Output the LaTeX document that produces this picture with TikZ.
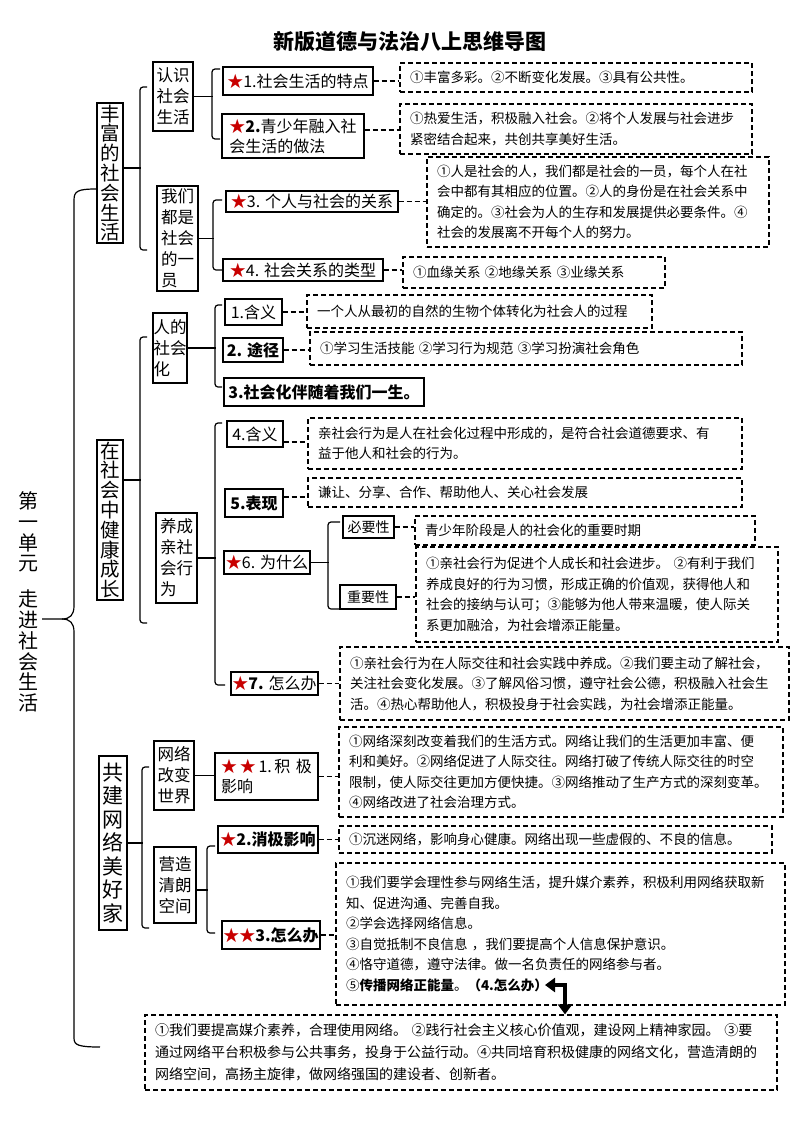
\documentclass[tikz,border=0pt]{standalone}
\usepackage{fontspec}
\setmainfont{Noto Sans CJK SC}
\usetikzlibrary{arrows.meta}
\definecolor{starred}{RGB}{200,0,0}
\newcommand{\rstar}{\textcolor{starred}{★}}

\tikzset{
  box/.style={draw, line width=1.4pt, inner sep=0pt, font=\fontsize{16}{20}\selectfont},
  bbox/.style={box, font=\bfseries\fontsize{16}{20}\selectfont},
  vbox/.style={box, text width=20pt, align=center, font=\fontsize{19.5}{19.8}\selectfont},
  kbox/.style={box, align=left, font=\fontsize{16.5}{21}\selectfont},
  dbox/.style={draw, line width=1.3pt, dash pattern=on 5pt off 3pt, inner xsep=10pt, inner ysep=0pt, align=left, font=\fontsize{13.5}{20.5}\selectfont},
  dline/.style={line width=1.3pt, dash pattern=on 5pt off 3pt},
  brk/.style={line width=1.2pt, rounded corners=3pt},
  fatarrow/.style={line width=4pt, arrows={Triangle[width=14pt,length=10pt]-Triangle[width=14pt,length=10pt]}}
}

\begin{document}
\begin{tikzpicture}[x=1pt,y=-1pt]
\fill[white] (0,0) rectangle (793,1122);
\useasboundingbox (0,0) rectangle (793,1122);

\draw(410,42) node[font=\bfseries\fontsize{21}{24}\selectfont] (title) {新版道德与法治八上思维导图};
\draw(28,602) node[align=center, font=\fontsize{20}{20.8}\selectfont] (chap) {第\\一\\单\\元\\[15pt]走\\进\\社\\会\\生\\活};

% three topics
\draw(110,173) node[vbox, minimum width=26pt, minimum height=140pt] (l1a) {丰\\富\\的\\社\\会\\生\\活};
\draw(110,520) node[vbox, minimum width=26pt, minimum height=160pt] (l1b) {在\\社\\会\\中\\健\\康\\成\\长};
\draw(113,843) node[vbox, text width=22pt, minimum width=28pt, minimum height=174pt, font=\fontsize{21}{23.5}\selectfont] (l1c) {共\\建\\网\\络\\美\\好\\家};

\coordinate (tip) at (42,619);
\draw[line width=1.2pt] ([yshift=-16pt]l1a.west) .. controls (78,189) and (74,191) .. (74,200) -- (74,606) .. controls (74,615) and (70,619) .. (62,619) -- (tip);
\draw[line width=1.2pt] (62,619) .. controls (70,619) and (74,623) .. (74,632) -- (74,1038) .. controls (74,1045) and (78,1047) .. (100,1047);

\draw[brk] ([yshift=5pt]l1a.east) -- ++(17,0);
\draw[brk] (147,87) -| (140,250) -- (147,250);
\draw[brk] ([yshift=40pt]l1b.east) -- ++(17,0);
\draw[brk] (147,337) -| (140,623) -- (147,623);
\draw[brk] (l1c.east) -- ++(15,0);
\draw[brk] (149,767) -| (142,928) -- (149,928);

% 丰富的社会生活
\draw(173,96.5) node[kbox, minimum width=40pt, minimum height=69pt] (s1) {认识\\社会\\生活};
\draw(177.5,238.5) node[kbox, minimum width=41pt, minimum height=105pt] (s2) {我们\\都是\\社会\\的一\\员};
\draw[brk] (s1.east) -- ++(19,0);
\draw[brk] (220,69) -| (212,139) -- (220,139);
\draw[brk] (s2.east) -- ++(15,0);
\draw[brk] (222,200) -| (213,270) -- (222,270);

\draw(298,81) node[box, minimum width=150pt, minimum height=28pt] (t1) {\rstar1.社会生活的特点};
\draw(293,136) node[box, minimum width=142pt, minimum height=44pt, align=left] (t2) {\rstar\textbf{2.}青少年融入社\\会生活的做法};
\draw(312,201.5) node[box, minimum width=172pt, minimum height=21pt] (t3) {\rstar3. 个人与社会的关系};
\draw(303,270) node[box, minimum width=160pt, minimum height=22pt] (t4) {\rstar4. 社会关系的类型};

\draw(576,77.5) node[dbox, text width=332pt, minimum height=29pt] (d1) {①丰富多彩。②不断变化发展。③具有公共性。};
\draw(576,129) node[dbox, text width=332pt, minimum height=50pt] (d2) {①热爱生活，积极融入社会。②将个人发展与社会进步\\紧密结合起来，共创共享美好生活。};
\draw(598,202) node[dbox, text width=322pt, minimum height=90pt] (d3) {①人是社会的人，我们都是社会的一员，每个人在社\\会中都有其相应的位置。②人的身份是在社会关系中\\确定的。③社会为人的生存和发展提供必要条件。④\\社会的发展离不开每个人的努力。};
\draw(534,272.5) node[dbox, text width=242pt, minimum height=31pt] (d4) {①血缘关系\ ②地缘关系\ ③业缘关系};

\draw[dline] (t1.east) -- (t1.east -| d1.west);
\draw[dline] ([yshift=6pt]t2.east) -- ([yshift=6pt]t2.east -| d2.west);
\draw[dline] (t3.east) -- (t3.east -| d3.west);
\draw[dline] (t4.east) -- (t4.east -| d4.west);

% 在社会中健康成长
\draw(170,348) node[kbox, minimum width=34pt, minimum height=70pt] (s3) {人的\\社会\\化};
\draw(176.5,558) node[kbox, minimum width=41pt, minimum height=90pt] (s4) {养成\\亲社\\会行\\为};
\draw[brk] (s3.east) -- ++(28,0);
\draw[brk] (222,305) -| (215,387) -- (222,387);
\draw[brk] (s4.east) -- ++(18.5,0);
\draw[brk] (222,423) -| (215,685) -- (225,685);

\draw(253.5,312) node[box, minimum width=57pt, minimum height=26pt] (t5) {1.含义};
\draw(253,350) node[bbox, minimum width=60pt, minimum height=24pt] (t6) {2. 途径};
\draw(324,392) node[bbox, minimum width=200pt, minimum height=28pt] (t7) {3.社会化伴随着我们一生。};
\draw(255,434) node[box, minimum width=56pt, minimum height=26pt] (t8) {4.含义};
\draw(254,503) node[bbox, minimum width=58pt, minimum height=28pt] (t9) {5.表现};
\draw(267,562.5) node[box, minimum width=86pt, minimum height=23pt] (t10) {\rstar6. 为什么};
\draw(274.5,683.5) node[box, minimum width=87pt, minimum height=23pt] (t11) {\rstar\textbf{7.} 怎么办};
\draw(368.5,527) node[box, minimum width=51pt, minimum height=22pt, font=\fontsize{14}{16}\selectfont] (t12) {必要性};
\draw(368,597) node[box, minimum width=56pt, minimum height=24pt, font=\fontsize{14}{16}\selectfont] (t13) {重要性};
\draw[brk] (t10.east) -- ++(18,0);
\draw[brk] (340,522) -| (328,609) -- (340,609);

\draw(479.5,311.5) node[dbox, text width=325pt, minimum height=33pt] (d5) {一个人从最初的自然的生物个体转化为社会人的过程};
\draw(526,348.5) node[dbox, text width=412pt, minimum height=33pt] (d6) {①学习生活技能\ ②学习行为规范\ ③学习扮演社会角色};
\draw(525,443.5) node[dbox, text width=414pt, minimum height=51pt] (d7) {亲社会行为是人在社会化过程中形成的，是符合社会道德要求、有\\益于他人和社会的行为。};
\draw(525,492.5) node[dbox, text width=414pt, minimum height=29pt] (d8) {谦让、分享、合作、帮助他人、关心社会发展};
\draw(585,530.5) node[dbox, text width=320pt, minimum height=29pt] (d9) {青少年阶段是人的社会化的重要时期};
\draw(597,594.5) node[dbox, text width=342pt, minimum height=95pt] (d10) {①亲社会行为促进个人成长和社会进步。\ ②有利于我们\\养成良好的行为习惯，形成正确的价值观，获得他人和\\社会的接纳与认可；③能够为他人带来温暖，使人际关\\系更加融洽，为社会增添正能量。};
\draw(564.5,683.5) node[dbox, text width=429pt, minimum height=73pt] (d11) {①亲社会行为在人际交往和社会实践中养成。②我们要主动了解社会，\\关注社会变化发展。③了解风俗习惯，遵守社会公德，积极融入社会生\\活。④热心帮助他人，积极投身于社会实践，为社会增添正能量。};

\draw[dline] (t5.east) -- (t5.east -| d5.west);
\draw[dline] (t6.east) -- (t6.east -| d6.west);
\draw[dline] ([yshift=-8pt]t8.east) -- ([yshift=-8pt]t8.east -| d7.west);
\draw[dline] ([yshift=6pt]t9.east) -- ([yshift=6pt]t9.east -| d8.west);
\draw[dline] (t12.east) -- (t12.east -| d9.west);
\draw[dline] (t13.east) -- (t13.east -| d10.west);
\draw[dline] (t11.east) -- (t11.east -| d11.west);

% 共建网络美好家
\draw(174,775.5) node[kbox, minimum width=40pt, minimum height=69pt] (s5) {网络\\改变\\世界};
\draw(175,885) node[kbox, minimum width=42pt, minimum height=76pt] (s6) {营造\\清朗\\空间};
\draw[brk] ([yshift=-5pt]s6.east) -- ++(11,0);
\draw[brk] (215,846) -| (207,933) -- (215,933);

\draw(266.5,776.5) node[box, minimum width=103pt, minimum height=47pt, align=left] (t14) {\rstar\,\rstar\,1.\,积\,\,极\\影响};
\draw(268,839.5) node[bbox, minimum width=100pt, minimum height=27pt] (t15) {\rstar2.消极影响};
\draw(271,935) node[bbox, minimum width=98pt, minimum height=28pt] (t16) {\rstar\rstar3.怎么办};
\draw[brk] (s5.east) -- (s5.east -| t14.west);

\draw(561,772) node[dbox, text width=424pt, minimum height=90pt] (d12) {①网络深刻改变着我们的生活方式。网络让我们的生活更加丰富、便\\利和美好。②网络促进了人际交往。网络打破了传统人际交往的时空\\限制，使人际交往更加方便快捷。③网络推动了生产方式的深刻变革。\\④网络改进了社会治理方式。};
\draw(555.5,839.5) node[dbox, text width=413pt, minimum height=27pt] (d13) {①沉迷网络，影响身心健康。网络出现一些虚假的、不良的信息。};
\draw(560.5,934) node[dbox, text width=429pt, minimum height=142pt] (d14) {①我们要学会理性参与网络生活，提升媒介素养，积极利用网络获取新\\知、促进沟通、完善自我。\\②学会选择网络信息。\\③自觉抵制不良信息\ ，我们要提高个人信息保护意识。\\④恪守道德，遵守法律。做一名负责任的网络参与者。\\⑤\textbf{传播网络正能量}。\textbf{（4.怎么办）}};
\draw(461,1052.5) node[dbox, text width=612pt, minimum height=75pt, font=\fontsize{14}{22}\selectfont] (d15) {①我们要提高媒介素养，合理使用网络。\ ②践行社会主义核心价值观，建设网上精神家园。\ ③要\\通过网络平台积极参与公共事务，投身于公益行动。④共同培育积极健康的网络文化，营造清朗的\\网络空间，高扬主旋律，做网络强国的建设者、创新者。};

\draw[dline] (t14.east) -- (t14.east -| d12.west);
\draw[dline] (t15.east) -- (t15.east -| d13.west);
\draw[dline] (t16.east) -- (t16.east -| d14.west);

\coordinate (bend) at (565,985);
\draw[fatarrow] ([xshift=-20pt]bend) -- (bend) -- (bend |- d15.north);
\end{tikzpicture}
\end{document}
